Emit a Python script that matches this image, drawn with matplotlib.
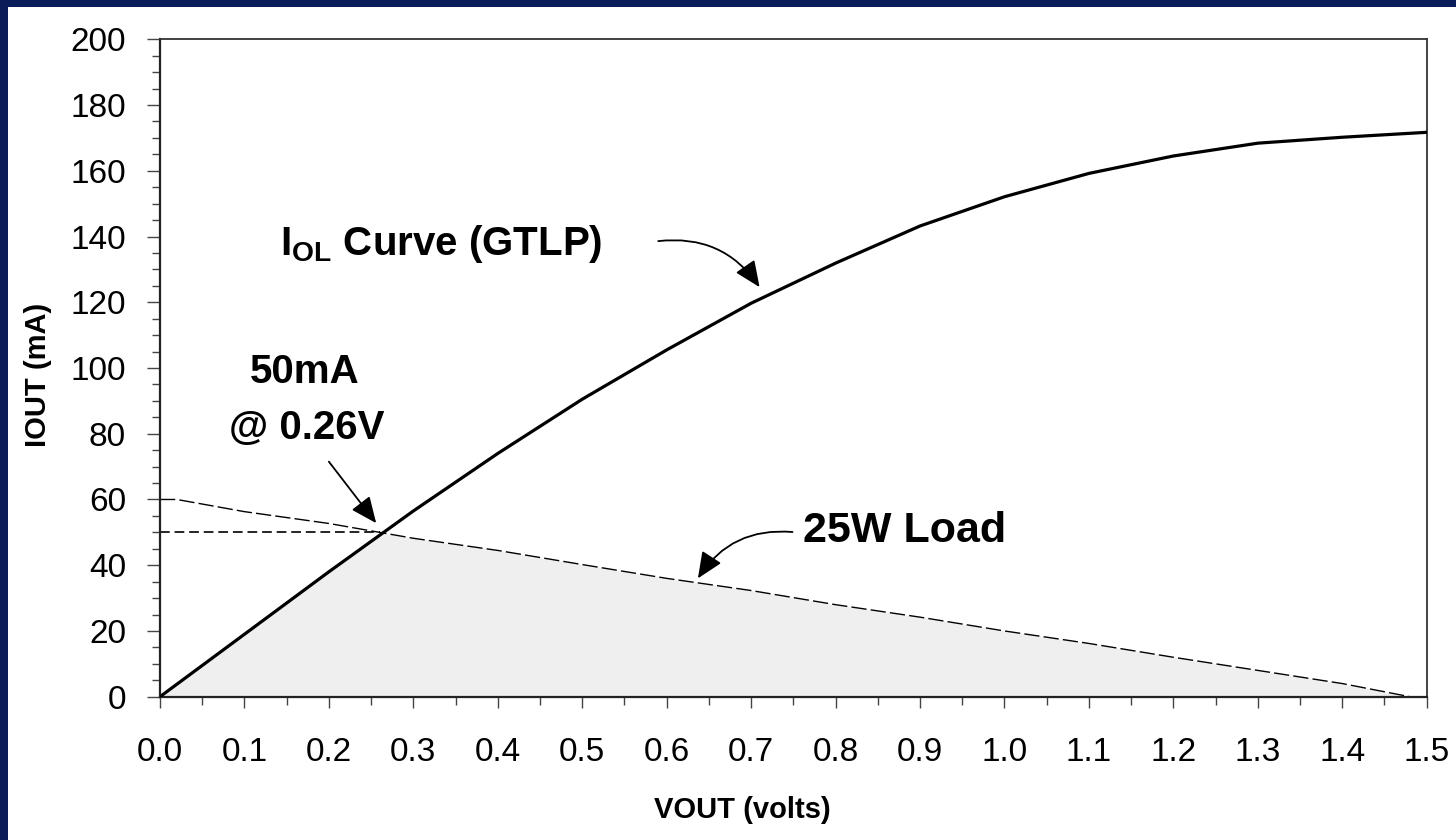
import numpy as np
import matplotlib.pyplot as plt
from matplotlib.patches import Rectangle
from matplotlib.ticker import MultipleLocator, FormatStrFormatter

plt.rcParams['font.family'] = ['Liberation Sans', 'DejaVu Sans']
plt.rcParams['mathtext.fontset'] = 'custom'
plt.rcParams['mathtext.rm'] = 'Liberation Sans'
plt.rcParams['mathtext.bf'] = 'Liberation Sans:bold'
plt.rcParams['lines.scale_dashes'] = False

# I_OL curve of the GTLP driver (VOUT in volts, IOUT in mA)
vout_iol = [0.0, 0.1, 0.2, 0.3, 0.4, 0.5, 0.6, 0.7, 0.8, 0.9, 1.0, 1.1, 1.2, 1.3, 1.4, 1.5]
iout_iol = [0, 19, 38, 56.5, 74, 90.5, 105.5, 119.7, 131.9, 143.2, 152.1, 159.2, 164.5, 168.4, 170.2, 171.7]

# 25 ohm load line
vout_load = [0.0, 0.02, 0.1, 0.2, 0.3, 0.4, 0.5, 0.6, 0.7, 0.8, 0.9, 1.0, 1.1, 1.2, 1.3, 1.4, 1.48]
iout_load = [60, 60, 56.3, 52.7, 48.2, 44.5, 40.2, 36, 32.3, 28, 24.2, 20, 16.2, 12, 8, 4, 0]

# operating point
cross_v = 0.26
cross_i = 50

navy = '#0b1d58'

fig = plt.figure(figsize=(14.56, 8.4), dpi=100)
fig.patch.set_facecolor(navy)
fig.add_artist(Rectangle((8 / 1456, 0), 1, 833 / 840, transform=fig.transFigure,
                         facecolor='white', edgecolor='none', zorder=-10))

ax = fig.add_axes([160 / 1456, (840 - 696.7) / 840, 1266.7 / 1456, 657.4 / 840])

# shaded region under both curves
fill_x = [v for v in vout_iol if v < cross_v] + [cross_v] + [v for v in vout_load if v > cross_v]
fill_y = ([i for v, i in zip(vout_iol, iout_iol) if v < cross_v] + [cross_i]
          + [i for v, i in zip(vout_load, iout_load) if v > cross_v])
ax.fill_between(fill_x, 0, fill_y, color='#efefef', lw=0, zorder=1)

ax.plot(vout_load, iout_load, color='black', lw=1.0, dashes=(11, 3), zorder=2)
ax.plot([0, cross_v], [cross_i, cross_i], color='black', lw=1.2, dashes=(7, 3.5), zorder=2)
ax.plot(vout_iol, iout_iol, color='black', lw=2.3, zorder=3, solid_joinstyle='miter')

ax.set_xlim(0, 1.5)
ax.set_ylim(0, 200)
ax.xaxis.set_major_locator(MultipleLocator(0.1))
ax.xaxis.set_minor_locator(MultipleLocator(0.05))
ax.yaxis.set_major_locator(MultipleLocator(20))
ax.yaxis.set_minor_locator(MultipleLocator(5))
ax.xaxis.set_major_formatter(FormatStrFormatter('%.1f'))

ax.tick_params(axis='x', which='major', direction='out', length=8, width=1.0, pad=21,
               labelsize=24, color='#444444')
ax.tick_params(axis='x', which='minor', direction='out', length=6, width=1.0, color='#444444')
ax.tick_params(axis='y', which='major', direction='out', length=9.5, width=1.0, pad=15,
               labelsize=24, color='#444444')
ax.tick_params(axis='y', which='minor', direction='out', length=6, width=1.0, color='#444444')

for side in ['left', 'bottom']:
    ax.spines[side].set_linewidth(1.6)
    ax.spines[side].set_color('#222222')
for side in ['top', 'right']:
    ax.spines[side].set_linewidth(1.3)
    ax.spines[side].set_color('#333333')

ax.set_xlabel('VOUT (volts)', fontsize=21, fontweight='bold')
ax.set_ylabel('IOUT (mA)', fontsize=21, fontweight='bold')
ax.xaxis.set_label_coords((742 - 160) / 1266.7, -(796 - 696.7) / 657.4)
ax.yaxis.set_label_coords(-(160 - 52) / 1266.7, (696.7 - 375) / 657.4)

# annotations
ax.text(0.333, 134.4, r'$\mathbf{I_{OL}}$ Curve (GTLP)', fontsize=29, fontweight='bold',
        ha='center', va='baseline')
ax.text(0.171, 95.3, '50mA', fontsize=29, fontweight='bold', ha='center', va='baseline')
ax.text(0.174, 78.5, '@ 0.26V', fontsize=29, fontweight='bold', ha='center', va='baseline')
ax.text(0.761, 47.0, '25W Load', fontsize=31, fontweight='bold', ha='left', va='baseline')

arrow = dict(arrowstyle='-|>,head_length=0.8,head_width=0.35', mutation_scale=20,
             color='black', lw=1.3, shrinkA=0, shrinkB=0)
ax.annotate('', xy=(0.710, 124.6), xytext=(0.590, 138.6),
            arrowprops=dict(arrow, connectionstyle='arc3,rad=-0.3'))
ax.annotate('', xy=(0.256, 52.8), xytext=(0.200, 71.5),
            arrowprops=dict(arrow, connectionstyle='arc3,rad=0'))
ax.annotate('', xy=(0.637, 36.0), xytext=(0.749, 50.1),
            arrowprops=dict(arrow, connectionstyle='arc3,rad=0.3'))

fig.savefig('out.png', dpi=100, facecolor=fig.get_facecolor())
